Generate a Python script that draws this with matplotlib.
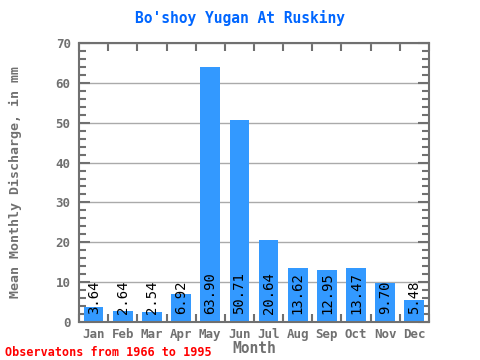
import matplotlib
matplotlib.use("Agg")
import matplotlib.pyplot as plt
from matplotlib.ticker import MultipleLocator

months = ['Jan', 'Feb', 'Mar', 'Apr', 'May', 'Jun', 'Jul', 'Aug', 'Sep', 'Oct', 'Nov', 'Dec']
discharge = [3.64, 2.64, 2.54, 6.92, 63.90, 50.71, 20.64, 13.62, 12.95, 13.47, 9.70, 5.48]
labels = ['3.64', '2.64', '2.54', '6.92', '63.90', '50.71', '20.64', '13.62', '12.95', '13.47', '9.70', '5.48']

plt.rcParams['font.family'] = ['DejaVu Sans Mono']
gray = '#707070'

fig = plt.figure(figsize=(4.8, 3.6), dpi=100)
ax = fig.add_axes([79/480, 1 - 322/360, 350/480, 279/360])

x = list(range(len(months)))
ax.bar(x, discharge, width=0.68, color='#3399ff', zorder=2)
for i, v in enumerate(discharge):
    ax.text(i, 2.0, labels[i], rotation=90, ha='center', va='bottom',
            fontsize=10, color='black', zorder=3)

ax.set_xlim(-0.5, 11.5)
ax.set_ylim(0, 70)
ax.yaxis.set_major_locator(MultipleLocator(10))
ax.yaxis.set_minor_locator(MultipleLocator(2))
ax.grid(axis='y', color='#aaaaaa', linewidth=1, zorder=1)

ax.set_xticks(x)
ax.set_xticklabels(months, fontsize=9, color=gray, fontweight='bold')
ax.set_xticks([i + 0.5 for i in range(-1, 12)], minor=True)
ax.tick_params(axis='x', which='major', length=0, pad=4)
ax.tick_params(axis='x', which='minor', direction='in', length=6, width=1.5,
               color=gray, top=True, bottom=True)
ax.tick_params(axis='y', which='major', direction='in', length=8, width=1.5,
               color=gray, left=True, right=True, labelsize=9, labelcolor=gray, pad=6)
ax.tick_params(axis='y', which='minor', direction='in', length=5, width=1.5,
               color=gray, left=True, right=True)
for lbl in ax.get_yticklabels():
    lbl.set_fontweight('bold')

for s in ax.spines.values():
    s.set_color(gray)
    s.set_linewidth(1.5)

ax.set_xlabel('Month', fontsize=10.5, color=gray, fontweight='bold', labelpad=0)
ax.set_ylabel('Mean Monthly Discharge, in mm', fontsize=9.5, color=gray,
              fontweight='bold', labelpad=24)
fig.text(0.5, 1 - 18/360, "Bo'shoy Yugan At Ruskiny", ha='center', va='center',
         fontsize=10.5, color='#0066ff', fontweight='bold')
fig.text(5/480, 1 - 352/360, 'Observatons from 1966 to 1995', ha='left', va='center',
         fontsize=8.5, color='red', fontweight='bold')

fig.savefig('out.png', dpi=100)
